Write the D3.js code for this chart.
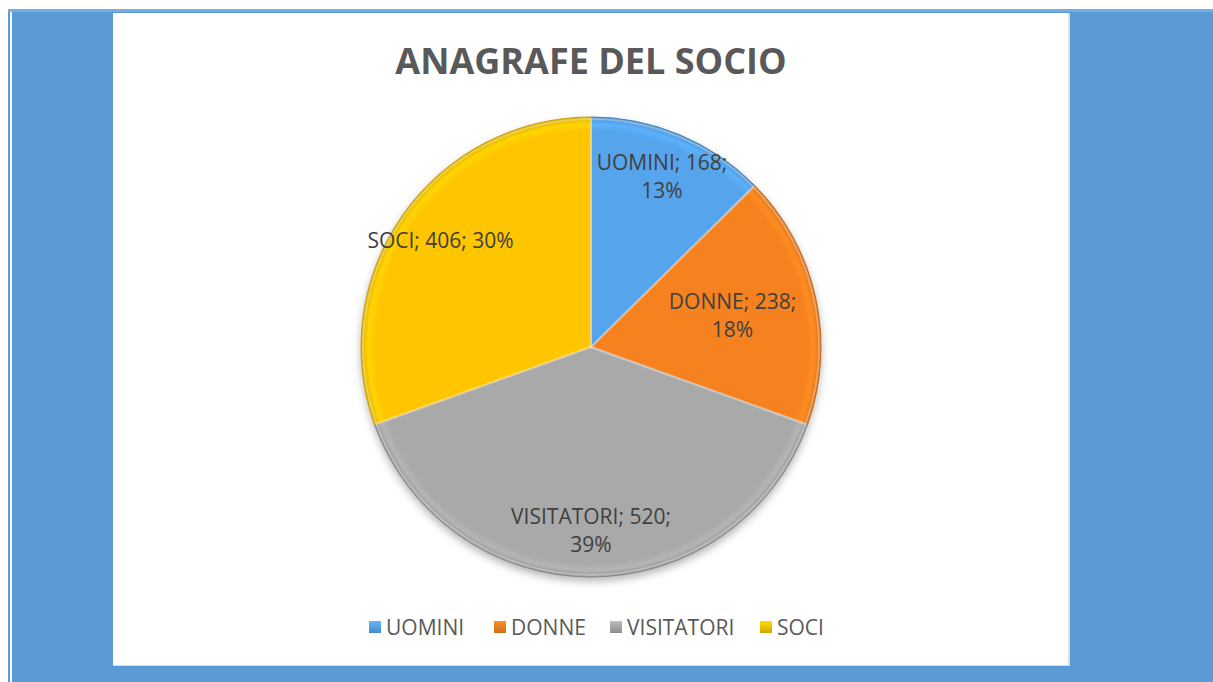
<!DOCTYPE html>
<html>
<head>
<meta charset="utf-8">
<script src="https://cdn.jsdelivr.net/npm/d3@7"></script>
<style>
  body { margin: 0; background: #fff; }
  svg { display: block; }
  text { font-family: "Open Sans", sans-serif; }
</style>
</head>
<body>
<svg class="pie-chart" width="1213" height="682"></svg>
<script>
const categories = ['UOMINI', 'DONNE', 'VISITATORI', 'SOCI'];
const values = [168, 238, 520, 406];
const percents = ['13%', '18%', '39%', '30%'];
const colors = ['#56a5ec', '#f5821f', '#a9a9a9', '#ffc600'];

const svg = d3.select('.pie-chart');
const width = +svg.attr('width');
const height = +svg.attr('height');

// frame
svg.append('rect').attr('x', 8).attr('y', 9).attr('width', width - 8).attr('height', height - 9).attr('fill', '#5b9bd5');
svg.append('rect').attr('x', 8).attr('y', 9).attr('width', width - 8).attr('height', 3).attr('fill', '#74aee0');
svg.append('rect').attr('x', 10).attr('y', 12).attr('width', 2).attr('height', height - 12).attr('fill', '#fff');

const panel = { x: 113, y: 13, w: 955, h: 652 };
svg.append('rect')
    .attr('x', panel.x).attr('y', panel.y)
    .attr('width', panel.w + 2).attr('height', panel.h + 1)
    .attr('fill', '#dcdcdc');
svg.append('rect')
    .attr('x', panel.x).attr('y', panel.y)
    .attr('width', panel.w).attr('height', panel.h)
    .attr('fill', '#fff');

svg.append('text')
    .attr('x', 591)
    .attr('y', 74)
    .attr('text-anchor', 'middle')
    .attr('font-size', 36)
    .attr('font-weight', 'bold')
    .attr('fill', '#595959')
    .text('ANAGRAFE DEL SOCIO');

const defs = svg.append('defs');

const blur = defs.append('filter').attr('id', 'blur')
    .attr('x', '-20%').attr('y', '-20%').attr('width', '140%').attr('height', '140%');
blur.append('feGaussianBlur').attr('stdDeviation', 4);

const cx = 591, cy = 347, radius = 230;

categories.forEach((c, i) => {
    const g = defs.append('radialGradient')
        .attr('id', 'grad' + i)
        .attr('gradientUnits', 'userSpaceOnUse')
        .attr('cx', 0).attr('cy', 0).attr('r', radius);
    g.append('stop').attr('offset', '0%').attr('stop-color', colors[i]);
    g.append('stop').attr('offset', '94%').attr('stop-color', colors[i]);
    g.append('stop').attr('offset', '97%').attr('stop-color', d3.color(colors[i]).brighter(0.2));
    g.append('stop').attr('offset', '100%').attr('stop-color', d3.color(colors[i]).darker(0.4));

    const lg = defs.append('linearGradient')
        .attr('id', 'lgrad' + i)
        .attr('x1', 0).attr('y1', 0).attr('x2', 0).attr('y2', 1);
    lg.append('stop').attr('offset', '0%').attr('stop-color', d3.color(colors[i]).brighter(0.3));
    lg.append('stop').attr('offset', '100%').attr('stop-color', d3.color(colors[i]).darker(0.5));
});

const data = categories.map((c, i) => ({ name: c, value: values[i], pct: percents[i], i }));

const pie = d3.pie().sort(null).value(d => d.value);
const arcs = pie(data);

const arc = d3.arc().innerRadius(0).outerRadius(radius);

const gPie = svg.append('g').attr('transform', `translate(${cx} ${cy})`);

// shadow under the pie
gPie.append('circle')
    .attr('cy', 4)
    .attr('r', radius)
    .attr('fill', 'rgba(0,0,0,0.3)')
    .attr('filter', 'url(#blur)');

gPie.append('g')
    .selectAll('path')
    .data(arcs)
    .enter()
    .append('path')
    .attr('d', arc)
    .attr('fill', d => `url(#grad${d.data.i})`)
    .attr('stroke', d => d3.color(colors[d.data.i]).darker(0.6))
    .attr('stroke-width', 1);

// soft highlight along slice edges (bevel look)
gPie.selectAll('path.edge')
    .data(arcs)
    .enter()
    .append('path')
    .attr('class', 'edge')
    .attr('d', d3.arc().innerRadius(0).outerRadius(radius - 2))
    .attr('fill', 'none')
    .attr('stroke', 'rgba(255,255,255,0.3)')
    .attr('stroke-width', 2);

const labelFactor = { DONNE: 0.63 };
const singleLine = ['SOCI'];

const labels = gPie.selectAll('text.label')
    .data(arcs)
    .enter()
    .append('text')
    .attr('class', 'label')
    .attr('text-anchor', 'middle')
    .attr('font-size', 21)
    .attr('fill', '#404040')
    .attr('transform', d => {
        const r = radius * (labelFactor[d.data.name] || 0.8);
        const a = (d.startAngle + d.endAngle) / 2;
        return `translate(${r * Math.sin(a)} ${-r * Math.cos(a)})`;
    });

labels.each(function (d) {
    const t = d3.select(this);
    if (singleLine.includes(d.data.name)) {
        t.append('tspan').attr('x', 0).attr('y', 7)
            .text(`${d.data.name}; ${d.data.value}; ${d.data.pct}`);
    } else {
        t.append('tspan').attr('x', 0).attr('y', -7)
            .text(`${d.data.name}; ${d.data.value};`);
        t.append('tspan').attr('x', 0).attr('y', 21)
            .text(d.data.pct);
    }
});

// legend
const legendX = [369, 494, 610, 760];
const legend = svg.append('g').selectAll('g')
    .data(data)
    .enter()
    .append('g')
    .attr('transform', (d, i) => `translate(${legendX[i]} 621)`);

legend.append('rect')
    .attr('width', 12).attr('height', 12)
    .attr('fill', d => `url(#lgrad${d.i})`);

legend.append('text')
    .attr('x', 17)
    .attr('y', 14)
    .attr('font-size', 21)
    .attr('fill', '#595959')
    .text(d => d.name);
</script>
</body>
</html>
